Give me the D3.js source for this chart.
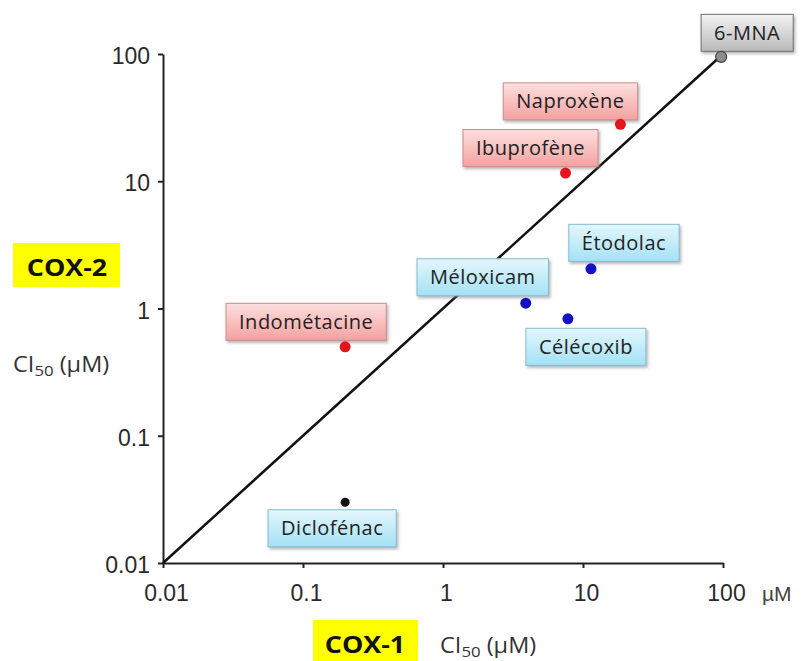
<!DOCTYPE html>
<html>
<head>
<meta charset="utf-8">
<script src="https://cdn.jsdelivr.net/npm/d3@7"></script>
<style>
  body { margin: 0; background: #fff; }
</style>
</head>
<body>
<svg id="chart" width="802" height="661"></svg>
<script>
// data (IC50 in µM)
const drugs = ["Naproxène", "Ibuprofène", "Indométacine", "Étodolac", "Méloxicam", "Célécoxib", "Diclofénac", "6-MNA"];
const cox1 = [18.5, 7.5, 0.2, 11.4, 3.9, 7.8, 0.2, 97];
const cox2 = [28, 11.6, 0.5, 2.05, 1.1, 0.83, 0.03, 95];
const groups = ["nonsel", "nonsel", "nonsel", "cox2", "cox2", "cox2", "diclo", "metab"];
const tickValues = [0.01, 0.1, 1, 10, 100];
const tickLabels = ["0.01", "0.1", "1", "10", "100"];
const diagonal = [0.01, 100];

// layout: where each label box sits relative to its dot
const labelOffset = [[-50, -23], [-35, -25], [-39, -25], [33, -26], [-43, -26], [18, 28], [-13, 26], [26, -24]];

const styles = {
  nonsel: { dot: "#e3141b", top: "#fde0df", bottom: "#f3a1a0", border: "#cf8c8c" },
  cox2:   { dot: "#1212c4", top: "#e4f7fd", bottom: "#a3e1f6", border: "#86bdd0" },
  diclo:  { dot: "#111111", top: "#e4f7fd", bottom: "#a3e1f6", border: "#86bdd0" },
  metab:  { dot: "#8c8c8c", top: "#f3f3f3", bottom: "#b9b9b9", border: "#707070" }
};

const svg = d3.select("#chart");
svg.append("rect").attr("width", 802).attr("height", 661).attr("fill", "#fff");

const defs = svg.append("defs");
Object.keys(styles).forEach((k) => {
  const g = defs.append("linearGradient").attr("id", "grad-" + k)
    .attr("x1", 0).attr("y1", 0).attr("x2", 0).attr("y2", 1);
  g.append("stop").attr("offset", "0%").attr("stop-color", styles[k].top);
  g.append("stop").attr("offset", "100%").attr("stop-color", styles[k].bottom);
});
defs.append("filter").attr("id", "shadow")
  .attr("x", "-20%").attr("y", "-30%").attr("width", "140%").attr("height", "170%")
  .append("feDropShadow")
  .attr("dx", 1.5).attr("dy", 2).attr("stdDeviation", 1.5)
  .attr("flood-color", "#777").attr("flood-opacity", 0.55);

const x = d3.scaleLog().domain([0.01, 100]).range([163, 723]);
const y = d3.scaleLog().domain([0.01, 100]).range([563, 54]);

// axes
const xAxis = svg.append("g").attr("transform", "translate(0,563)")
  .call(d3.axisBottom(x).tickValues(tickValues).tickSize(5).tickSizeOuter(0)
    .tickFormat((d, i) => tickLabels[i]));
const yAxis = svg.append("g").attr("transform", "translate(163,0)")
  .call(d3.axisLeft(y).tickValues(tickValues).tickSize(5).tickSizeOuter(0)
    .tickFormat((d, i) => tickLabels[i]));

[xAxis, yAxis].forEach((ax) => {
  ax.select(".domain").attr("stroke", "#222").attr("stroke-width", 2);
  ax.selectAll(".tick line").attr("stroke", "#222").attr("stroke-width", 2);
  ax.selectAll(".tick text")
    .attr("fill", "#2a2a2a")
    .style("font-family", "'Liberation Sans', Arial, sans-serif")
    .style("font-size", "23px");
});
xAxis.selectAll(".tick text").attr("y", 22).attr("dy", "0.71em").attr("dx", 3);
yAxis.selectAll(".tick text").attr("x", -13).attr("dy", "0.42em");

// unit after the last x tick
svg.append("text").attr("x", 762).attr("y", 601)
  .attr("fill", "#444")
  .style("font-family", "'Liberation Sans', Arial, sans-serif")
  .style("font-size", "21px")
  .text("µM");

// y = x line
svg.append("line")
  .attr("x1", x(diagonal[0])).attr("y1", y(diagonal[0]))
  .attr("x2", x(diagonal[1])).attr("y2", y(diagonal[1]))
  .attr("stroke", "#111").attr("stroke-width", 2.5);

// label boxes
const labelFont = "'Open Sans', 'Noto Sans', sans-serif";
drugs.forEach((name, i) => {
  const st = styles[groups[i]];
  const cx = x(cox1[i]) + labelOffset[i][0];
  const cy = y(cox2[i]) + labelOffset[i][1];
  const g = svg.append("g").attr("transform", `translate(${cx},${cy})`);
  const rect = g.append("rect");
  const t = g.append("text")
    .attr("text-anchor", "middle")
    .attr("y", 7)
    .attr("fill", "#222")
    .style("font-family", labelFont)
    .style("font-size", "20px")
    .style("letter-spacing", "0.5px")
    .text(name);
  const w = t.node().getComputedTextLength() + 26;
  const h = 37;
  rect.attr("x", -w / 2).attr("y", -h / 2).attr("width", w).attr("height", h)
    .attr("fill", `url(#grad-${groups[i]})`)
    .attr("stroke", st.border).attr("stroke-width", 1)
    .attr("filter", "url(#shadow)");
});

// dots
svg.selectAll("circle.dot")
  .data(drugs)
  .enter()
  .append("circle")
  .attr("class", "dot")
  .attr("cx", (d, i) => x(cox1[i]))
  .attr("cy", (d, i) => y(cox2[i]))
  .attr("r", (d, i) => groups[i] === "diclo" ? 4.5 : 5.5)
  .attr("fill", (d, i) => styles[groups[i]].dot)
  .attr("stroke", (d, i) => groups[i] === "metab" ? "#444" : "none")
  .attr("stroke-width", 1.2);

// axis titles with yellow highlight (text a bit wider than the font, like the source)
function ci50(textSel) {
  textSel.append("tspan").text("CI");
  textSel.append("tspan").attr("dy", 4).style("font-size", "15px").text("50");
  textSel.append("tspan").attr("dy", -4).text(" (µM)");
}
function title(px, py, anchor) {
  return svg.append("text")
    .attr("transform", `translate(${px},${py}) scale(1.12,1)`)
    .attr("text-anchor", anchor)
    .style("font-family", labelFont);
}

svg.append("rect").attr("x", 13).attr("y", 243).attr("width", 107).attr("height", 44).attr("fill", "#ffff00");
title(67, 276, "middle").attr("fill", "#111")
  .style("font-size", "24px").style("font-weight", "bold").text("COX-2");
title(13, 372, "start").attr("fill", "#333").style("font-size", "21px").call(ci50);

svg.append("rect").attr("x", 313).attr("y", 620).attr("width", 105).attr("height", 45).attr("fill", "#ffff00");
title(365, 653, "middle").attr("fill", "#111")
  .style("font-size", "24px").style("font-weight", "bold").text("COX-1");
title(440, 653, "start").attr("fill", "#333").style("font-size", "21px").call(ci50);
</script>
</body>
</html>
